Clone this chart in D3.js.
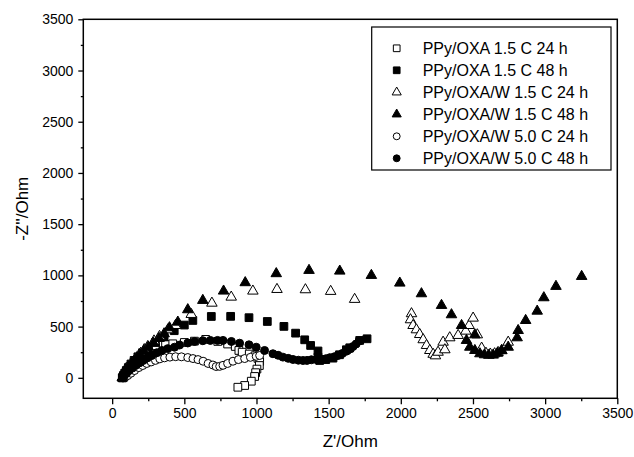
<!DOCTYPE html>
<html>
<head>
<meta charset="utf-8">
<script src="https://cdn.jsdelivr.net/npm/d3@7"></script>
<style>
body { margin: 0; background: #fff; }
text { font-family: "Liberation Sans", Arial, sans-serif; fill: #000; }
</style>
</head>
<body>
<svg id="main"></svg>
<script>
// series names, in legend order
var seriesNames = [
	'PPy/OXA 1.5 C 24 h',
	'PPy/OXA 1.5 C 48 h',
	'PPy/OXA/W 1.5 C 24 h',
	'PPy/OXA/W 1.5 C 48 h',
	'PPy/OXA/W 5.0 C 24 h',
	'PPy/OXA/W 5.0 C 48 h',
];

// [Z', -Z''] in Ohm
var oxa15_24 = [[72,0],[78,20],[88,45],[102,75],[122,110],[150,150],[190,200],[240,250],[300,295],[370,325],[420,332],[500,345],[570,358],[648,375],[732,355],[800,330],[853,306],[878,267],[901,250],[950,232],[990,215],[1010,190],[1022,160],[1020,120],[1003,85],[994,50],[987,13],[964,-33],[918,-75],[871,-92]];
var oxa15_48 = [[70,0],[75,10],[80,25],[88,45],[98,70],[112,100],[130,135],[152,170],[178,205],[210,245],[250,290],[300,345],[360,400],[430,460],[500,515],[559,560],[687,599],[821,600],[948,587],[1075,550],[1190,502],[1271,436],[1334,371],[1375,316],[1426,262],[1426,201],[1438,169],[1480,178],[1530,192],[1575,225],[1623,274],[1646,293],[1715,365],[1766,381]];
var oxaw15_24 = [[72,0],[78,15],[85,35],[95,58],[108,85],[122,112],[138,140],[155,170],[175,205],[198,240],[222,275],[247,306],[290,360],[328,404],[386,469],[439,511],[548,619],[691,729],[825,788],[975,847],[1142,863],[1339,860],[1514,844],[1680,766],[2074,626],[2067,567],[2085,511],[2108,469],[2131,423],[2155,372],[2178,316],[2201,267],[2224,230],[2240,215],[2258,250],[2293,348],[2305,274],[2339,391],[2397,414],[2450,456],[2473,511],[2501,583],[2530,420],[2560,290],[2590,240],[2620,232],[2650,235],[2674,248],[2700,265],[2733,316],[2744,348]];
var oxaw15_48 = [[70,0],[75,10],[82,28],[92,50],[104,75],[118,102],[134,130],[152,160],[172,192],[195,226],[220,262],[250,300],[285,340],[325,385],[360,430],[397,489],[455,544],[524,665],[628,756],[772,847],[922,929],[1137,1017],[1364,1049],[1577,1042],[1796,1000],[1993,925],[2143,821],[2282,707],[2351,616],[2421,511],[2513,420],[2455,365],[2478,299],[2513,267],[2548,235],[2580,225],[2610,220],[2640,222],[2670,240],[2698,267],[2744,299],[2806,391],[2813,462],[2865,560],[2945,651],[2991,782],[3075,893],[3253,990]];
var oxaw50_24 = [[75,0],[90,10],[108,22],[130,45],[155,71],[185,100],[212,120],[240,140],[270,155],[300,170],[330,185],[363,195],[400,202],[440,206],[480,205],[524,198],[560,188],[595,178],[630,162],[665,140],[698,125],[721,110],[745,112],[768,122],[800,140],[837,162],[875,178],[918,188],[958,200],[998,210],[1022,218]];
var oxaw50_48 = [[75,0],[85,22],[100,45],[118,71],[140,95],[162,120],[188,145],[215,169],[245,195],[275,218],[310,245],[345,267],[385,285],[432,299],[467,320],[524,340],[571,355],[628,362],[680,365],[730,365],[768,365],[826,355],[883,338],[948,322],[998,299],[1056,267],[1114,235],[1150,220],[1183,202],[1220,190],[1253,179],[1290,172],[1322,169],[1350,170],[1380,176],[1415,178],[1449,179],[1480,186],[1507,196],[1540,206],[1565,218],[1595,238],[1623,260],[1650,283],[1669,306],[1690,330],[1710,358]];

var seriesData = [oxa15_24, oxa15_48, oxaw15_24, oxaw15_48, oxaw50_24, oxaw50_48];

// axis ticks
var majorTicks = d3.range(0, 3501, 500);
var minorTicks = d3.range(250, 3500, 500);

var width = 634, height = 457;
var margin = {top: 19.3, right: 16.7, bottom: 58.7, left: 83.3};

var svg = d3.select('#main').attr('width', width).attr('height', height);

var x = d3.scaleLinear().domain([-200, 3500]).range([margin.left, width - margin.right]);
var y = d3.scaleLinear().domain([-200, 3500]).range([height - margin.bottom, margin.top]);

var shapes = [
	{type: d3.symbolSquare, size: 60, fill: '#fff'},
	{type: d3.symbolSquare, size: 60, fill: '#000'},
	{type: d3.symbolTriangle, size: 48, fill: '#fff'},
	{type: d3.symbolTriangle, size: 48, fill: '#000'},
	{type: d3.symbolCircle, size: 50, fill: '#fff'},
	{type: d3.symbolCircle, size: 50, fill: '#000'},
];

// axes
var fmt = d3.format('d');
var xAxis = svg.append('g').attr('transform', `translate(0,${height - margin.bottom})`)
	.call(d3.axisBottom(x).tickValues(majorTicks).tickFormat(fmt).tickSize(6).tickPadding(4));
var xMinor = svg.append('g').attr('transform', `translate(0,${height - margin.bottom})`)
	.call(d3.axisBottom(x).tickValues(minorTicks).tickSize(3).tickFormat(''));
var yAxis = svg.append('g').attr('transform', `translate(${margin.left},0)`)
	.call(d3.axisLeft(y).tickValues(majorTicks).tickFormat(fmt).tickSize(5).tickPadding(5));
var yMinor = svg.append('g').attr('transform', `translate(${margin.left},0)`)
	.call(d3.axisLeft(y).tickValues(minorTicks).tickSize(2.5).tickFormat(''));

for (let g of [xAxis, xMinor, yAxis, yMinor]) {
	g.select('.domain').remove();
	g.selectAll('line').attr('stroke', '#000').attr('stroke-width', 1.3);
	g.selectAll('text').attr('font-size', 14).attr('font-family', '"Liberation Sans", Arial, sans-serif');
}

// points
var plot = svg.append('g');
seriesData.forEach((data, i) => {
	var s = shapes[i];
	plot.append('g').selectAll('path')
		.data(data)
		.join('path')
		.attr('transform', d => `translate(${x(d[0])},${y(d[1])})`)
		.attr('d', d3.symbol(s.type, s.size))
		.attr('fill', s.fill)
		.attr('stroke', '#000')
		.attr('stroke-width', 1);
});

// frame
svg.append('rect')
	.attr('x', margin.left).attr('y', margin.top)
	.attr('width', width - margin.left - margin.right)
	.attr('height', height - margin.top - margin.bottom)
	.attr('fill', 'none').attr('stroke', '#000').attr('stroke-width', 1.5);

// axis titles
svg.append('text')
	.attr('x', (margin.left + width - margin.right) / 2)
	.attr('y', 447)
	.attr('text-anchor', 'middle')
	.attr('font-size', 17)
	.text("Z'/Ohm");
svg.append('text')
	.attr('transform', `translate(28,${(margin.top + height - margin.bottom) / 2}) rotate(-90)`)
	.attr('text-anchor', 'middle')
	.attr('font-size', 17)
	.text("-Z''/Ohm");

// legend
var legend = svg.append('g');
legend.append('rect')
	.attr('x', 371.7).attr('y', 27)
	.attr('width', 239.3).attr('height', 143)
	.attr('fill', '#fff').attr('stroke', '#000').attr('stroke-width', 1.2);
seriesNames.forEach((name, i) => {
	var s = shapes[i];
	var ly = 48.3 + i * 22;
	legend.append('path')
		.attr('transform', `translate(396.7,${ly})`)
		.attr('d', d3.symbol(s.type, s.size * 0.75))
		.attr('fill', s.fill)
		.attr('stroke', '#000')
		.attr('stroke-width', 1);
	legend.append('text')
		.attr('x', 422.7).attr('y', ly)
		.attr('dy', '0.35em')
		.attr('font-size', 16)
		.text(name);
});
</script>
</body>
</html>
